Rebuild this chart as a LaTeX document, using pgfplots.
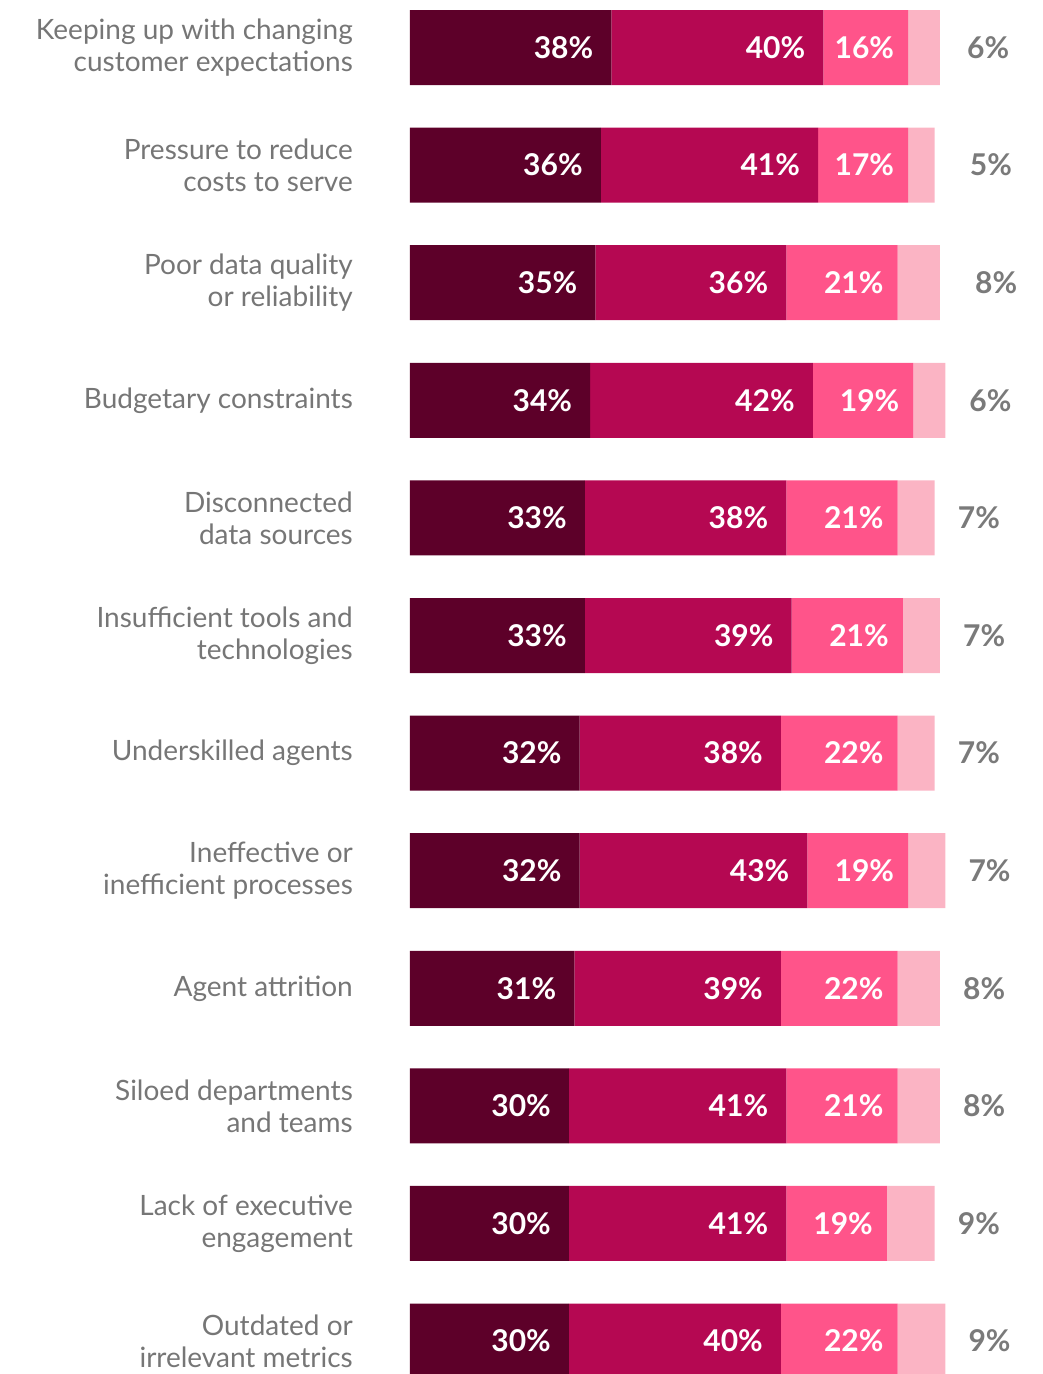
\documentclass[border=0pt]{standalone}
\usepackage{pgfplots}
\pgfplotsset{compat=1.18}
\usepackage{pgfplotstable}
\usepackage{fontspec}
\setmainfont{Lato}
\definecolor{c1}{HTML}{5D0029}
\definecolor{c2}{HTML}{B50852}
\definecolor{c3}{HTML}{FF548A}
\definecolor{c4}{HTML}{FBB4C4}
\definecolor{lab}{HTML}{767676}
\definecolor{out}{HTML}{7A7A7A}
\pgfplotstableread{
y a b c d o
0 38 40 16 6 27
1 36 41 17 5 35
2 35 36 21 8 35
3 34 42 19 6 24
4 33 38 21 7 23
5 33 39 21 7 23
6 32 38 22 7 23
7 32 43 19 7 23
8 31 39 22 8 23
9 30 41 21 8 23
10 30 41 19 9 23
11 30 40 22 9 23
}\data
\begin{document}
\begin{tikzpicture}
\useasboundingbox (-410pt,0pt) rectangle (632pt,1374pt);
\begin{axis}[
  scale only axis, width=530pt, height=1374pt,
  xmin=0, xmax=100, ymin=-0.404, ymax=11.28,
  y dir=reverse,
  xbar stacked, bar width=75pt,
  axis line style={draw=none},
  xtick=\empty,
  ytick={0,...,11},
  major tick length=0pt,
  yticklabels={
    {Keeping up with changing\\customer expectations},
    {Pressure to reduce\\costs to serve},
    {Poor data quality\\or reliability},
    {Budgetary constraints},
    {Disconnected\\data sources},
    {Insufficient tools and\\technologies},
    {Underskilled agents},
    {Ineffective or\\inefficient processes},
    {Agent attrition},
    {Siloed departments\\and teams},
    {Lack of executive\\engagement},
    {Outdated or\\irrelevant metrics}},
  yticklabel style={align=right, anchor=east, inner sep=0pt, xshift=-57pt,
    font=\fontsize{28}{32}\selectfont, text=lab},
  point meta=explicit symbolic,
  nodes near coords={\pgfplotspointmeta\%},
  clip=false,
]
\addplot[fill=c1, draw=none,
  visualization depends on={\thisrow{a}\as\sw},
  nodes near coords style={anchor=east, inner sep=0pt, xshift={\sw*2.65pt-18pt},
    font=\fontsize{30}{32}\selectfont\bfseries, text=white}]
  table[x=a, y=y, meta=a] {\data};
\addplot[fill=c2, draw=none,
  visualization depends on={\thisrow{b}\as\sw},
  nodes near coords style={anchor=east, inner sep=0pt, xshift={\sw*2.65pt-18pt},
    font=\fontsize{30}{32}\selectfont\bfseries, text=white}]
  table[x=b, y=y, meta=b] {\data};
\addplot[fill=c3, draw=none,
  visualization depends on={\thisrow{c}\as\sw},
  nodes near coords style={anchor=east, inner sep=0pt, xshift={\sw*2.65pt-14pt},
    font=\fontsize{30}{32}\selectfont\bfseries, text=white}]
  table[x=c, y=y, meta=c] {\data};
\addplot[fill=c4, draw=none,
  visualization depends on={\thisrow{d}\as\sw},
  visualization depends on={\thisrow{o}\as\so},
  nodes near coords style={anchor=west, inner sep=0pt, xshift={\sw*2.65pt+\so*1pt},
    font=\fontsize{30}{32}\selectfont\bfseries, text=out}]
  table[x=d, y=y, meta=d] {\data};
\end{axis}
\end{tikzpicture}
\end{document}
